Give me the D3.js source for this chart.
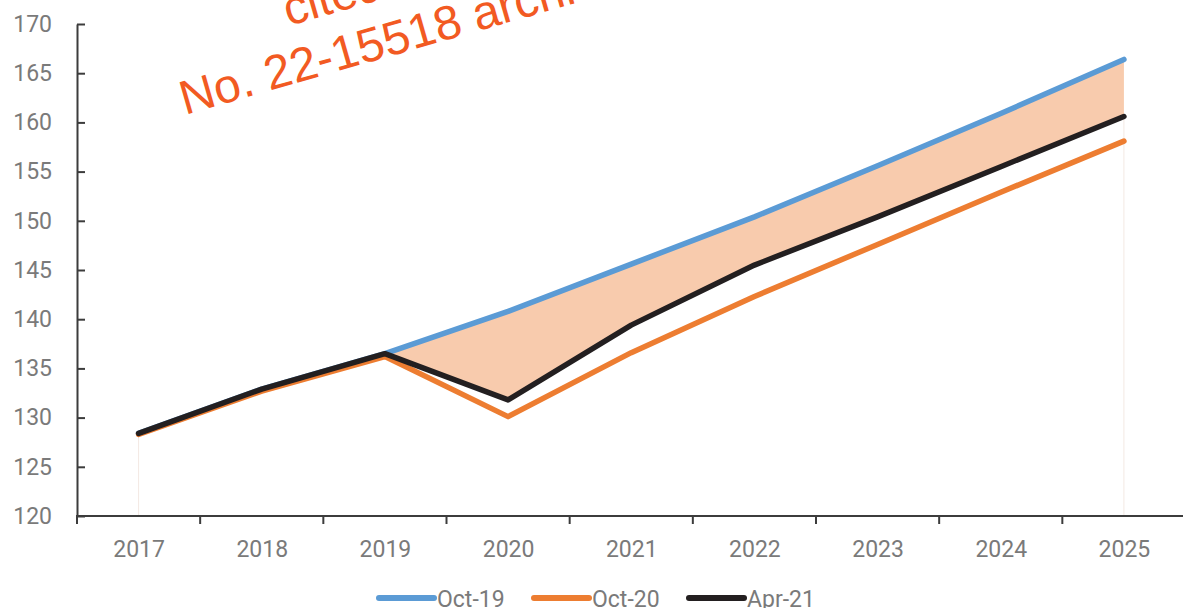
<!DOCTYPE html>
<html>
<head>
<meta charset="utf-8">
<script src="https://cdn.jsdelivr.net/npm/d3@7"></script>
<style>
  html, body { margin: 0; padding: 0; background: #ffffff; overflow: hidden; }
  svg { display: block; }
</style>
</head>
<body>
<svg id="chart" width="1183" height="608"></svg>
<script>
// Forecast vintages of the index, 2017-2025
const years = ["2017", "2018", "2019", "2020", "2021", "2022", "2023", "2024", "2025"];
const oct19 = [128.4, 132.9, 136.5, 140.8, 145.6, 150.4, 155.6, 160.9, 166.4];
const oct20 = [128.3, 132.7, 136.2, 130.1, 136.6, 142.3, 147.6, 152.9, 158.1];
const apr21 = [128.4, 132.9, 136.5, 131.8, 139.4, 145.5, 150.4, 155.5, 160.6];
const yTicks = [120, 125, 130, 135, 140, 145, 150, 155, 160, 165, 170];
const seriesNames = ["Oct-19", "Oct-20", "Apr-21"];
const seriesColors = ["#5b9bd5", "#ed7d31", "#231f20"];

const svg = d3.select("#chart");
const plotLeft = 77, plotRight = 1185.5, plotTop = 24, plotBottom = 516;

const xBand = d3.scaleBand().domain(years).range([plotLeft, plotRight]);
const x = d3.scalePoint().domain(years).range([plotLeft, plotRight]).padding(0.5);
const y = d3.scaleLinear().domain([120, 170]).range([plotBottom, plotTop]);

const rows = years.map((yr, i) => ({ yr, a: oct19[i], b: oct20[i], c: apr21[i] }));

// Faint outline of the base area under the Apr-21 path
[rows[0], rows[rows.length - 1]].forEach(r => {
  svg.append("line")
    .attr("x1", x(r.yr)).attr("x2", x(r.yr))
    .attr("y1", y(120)).attr("y2", y(r.c))
    .attr("stroke", "#f3e9e3").attr("stroke-width", 1);
});

// Gap between the Oct-19 path and the Apr-21 path
svg.append("path")
  .datum(rows)
  .attr("fill", "#f8cbad")
  .attr("d", d3.area().x(d => x(d.yr)).y0(d => y(d.c)).y1(d => y(d.a)));

// Axes
const axisColor = "#3c3c3c";
const labelColor = "#7a7a7a";
const font = "Roboto, 'Open Sans', sans-serif";

const yAxis = svg.append("g")
  .attr("transform", `translate(${plotLeft},0)`)
  .call(d3.axisLeft(y).tickValues(yTicks).tickSizeInner(-8).tickSizeOuter(0).tickPadding(25));
yAxis.select(".domain").attr("stroke", axisColor).attr("stroke-width", 2);
yAxis.selectAll(".tick line").attr("stroke", axisColor).attr("stroke-width", 2);
yAxis.selectAll(".tick text")
  .attr("fill", labelColor).style("font-family", font).style("font-size", "23px");

const xAxis = svg.append("g")
  .attr("transform", `translate(0,${plotBottom})`)
  .call(d3.axisBottom(x).tickSize(0).tickPadding(25));
xAxis.select(".domain").remove();
xAxis.selectAll(".tick text")
  .attr("fill", labelColor).style("font-family", font).style("font-size", "23px");

svg.append("line")
  .attr("x1", plotLeft - 1).attr("x2", 1183)
  .attr("y1", plotBottom).attr("y2", plotBottom)
  .attr("stroke", axisColor).attr("stroke-width", 2);

// Category boundary ticks on the x axis
const bounds = years.map(d => xBand(d)).concat([xBand.range()[1]]);
svg.selectAll(".xtick")
  .data(bounds)
  .join("line")
  .attr("class", "xtick")
  .attr("x1", d => d).attr("x2", d => d)
  .attr("y1", plotBottom).attr("y2", plotBottom + 8)
  .attr("stroke", axisColor).attr("stroke-width", 2);

// Series lines
const line = key => d3.line().x(d => x(d.yr)).y(d => y(d[key]));
[["a", 0], ["b", 1], ["c", 2]].forEach(([key, i]) => {
  svg.append("path")
    .datum(rows)
    .attr("fill", "none")
    .attr("stroke", seriesColors[i])
    .attr("stroke-width", 5.5)
    .attr("stroke-linejoin", "round")
    .attr("stroke-linecap", "round")
    .attr("d", line(key));
});

// Legend
const legendX = [379, 534, 689];
seriesNames.forEach((name, i) => {
  const g = svg.append("g").attr("transform", `translate(${legendX[i]},598)`);
  g.append("line")
    .attr("x1", 0).attr("x2", 55).attr("y1", 0).attr("y2", 0)
    .attr("stroke", seriesColors[i]).attr("stroke-width", 6)
    .attr("stroke-linecap", "round");
  g.append("text")
    .attr("x", 58).attr("y", 8.5)
    .attr("fill", labelColor)
    .style("font-family", font).style("font-size", "23px")
    .text(name);
});

// Stamp text across the top
const stamp = svg.append("g")
  .attr("transform", "translate(185,115) rotate(-16)")
  .style("font-family", "'Liberation Sans', Arial, sans-serif")
  .style("font-size", "48px")
  .attr("fill", "#f25a22");
stamp.append("text").attr("x", 124).attr("y", -57).text("cited in");
stamp.append("text").attr("x", 0).attr("y", 0).text("No. 22-15518 archived");
</script>
</body>
</html>
